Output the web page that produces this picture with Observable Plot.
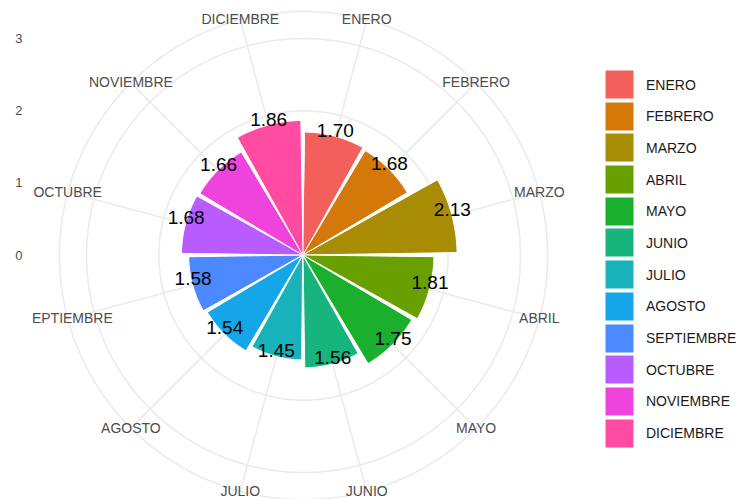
<!DOCTYPE html>
<html><head><meta charset="utf-8">
<script src="https://cdn.jsdelivr.net/npm/d3@7"></script>
<script src="https://cdn.jsdelivr.net/npm/@observablehq/plot@0.6"></script>
<style>
html,body{margin:0;padding:0;background:#fff;}
#wrap{position:relative;width:743px;height:499px;overflow:hidden;font-family:"Liberation Sans",Arial,sans-serif;}
#chart{position:absolute;left:0;top:0;}
#legend{position:absolute;left:605px;top:70px;}
#legend .lg-swatch{padding-bottom:2.7px !important;margin:0 !important;}
#legend .lg-swatch svg{margin-right:12px !important;}
#legend .lg-swatch rect{stroke:#fff;stroke-width:1px;}
</style></head><body>
<div id="wrap"><div id="chart"></div><div id="legend"></div></div>
<script>
// ---- data ----
const months = ["ENERO","FEBRERO","MARZO","ABRIL","MAYO","JUNIO","JULIO","AGOSTO","SEPTIEMBRE","OCTUBRE","NOVIEMBRE","DICIEMBRE"];
const values = [1.70, 1.68, 2.13, 1.81, 1.75, 1.56, 1.45, 1.54, 1.58, 1.68, 1.66, 1.86];
const colors = ["#F3605B","#D5780A","#A88C04","#69A000","#1AAF2C","#17B57D","#18B3BA","#14A6E8","#4C88FF","#B95CFF","#EE44DC","#FF4BA1"];
const radialTicks = [0, 1, 2, 3];

// ---- layout ----
const W = 743, H = 499;
const CX = 303, CY = 255, ML = 32;
const RMAX = 3;                 // radial scale max (maps to 0.4 of panel)
const K = 217 / RMAX;           // px per unit
const ROUT = RMAX * 0.45 / 0.4; // outer grid circle
const n = months.length;
const step = 2 * Math.PI / n;
const barW = 0.94;
const font = "Liberation Sans, Arial, sans-serif";

const rows = months.map((m, i) => ({month: m, value: values[i], t: (i + 0.5) * step}));

// wedge outline samples
const wedge = [];
for (const r of rows) {
  const a0 = r.t - barW * step / 2, a1 = r.t + barW * step / 2;
  for (let j = 0; j <= 30; j++) wedge.push({month: r.month, value: r.value, t: a0 + (a1 - a0) * j / 30});
}
// grid circles
const ringRadii = [...radialTicks.filter(v => v > 0), ROUT];
const rings = [];
for (const rr of ringRadii) for (let j = 0; j <= 180; j++) rings.push({r: rr, t: j * 2 * Math.PI / 180});

const px = (r, t) => r * Math.sin(t);
const py = (r, t) => r * Math.cos(t);

const chart = Plot.plot({
  width: W, height: H,
  marginLeft: ML, marginRight: 0, marginTop: 0, marginBottom: 0,
  style: {fontFamily: font, background: "white"},
  x: {domain: [(ML - CX) / K, (W - CX) / K], axis: null},
  y: {domain: [-(H - CY) / K, CY / K]},
  color: {domain: months, range: colors},
  marks: [
    Plot.line(rings, {x: d => px(d.r, d.t), y: d => py(d.r, d.t), z: "r", stroke: "#EBEBEB", strokeWidth: 1.6}),
    Plot.link(rows, {x1: () => 0, y1: () => 0, x2: d => px(ROUT, d.t), y2: d => py(ROUT, d.t), stroke: "#EBEBEB", strokeWidth: 1.6}),
    Plot.area(wedge, {x1: () => 0, y1: () => 0, x2: d => px(d.value, d.t), y2: d => py(d.value, d.t), z: "month", fill: "month", stroke: "white", strokeWidth: 1}),
    Plot.text(rows, {x: d => px(d.value, d.t), y: d => py(d.value, d.t), text: d => d.value.toFixed(2), lineAnchor: "bottom", fontSize: 19, fill: "black"}),
    Plot.text(rows, {x: d => px(ROUT, d.t), y: d => py(ROUT, d.t), text: "month", fontSize: 14, fill: "#4D4D4D", clip: "frame"}),
    Plot.axisY(radialTicks, {tickSize: 0, tickPadding: 10, fontSize: 13, color: "#4D4D4D", label: null, tickFormat: d3.format("d")})
  ]
});
document.getElementById("chart").appendChild(chart);

const legend = Plot.legend({
  color: {type: "ordinal", domain: months, range: colors},
  legend: "swatches", columns: 1, swatchSize: 29, className: "lg",
  style: {fontSize: "14px", fontFamily: font, color: "#1A1A1A"}
});
document.getElementById("legend").appendChild(legend);
</script>
</body></html>
